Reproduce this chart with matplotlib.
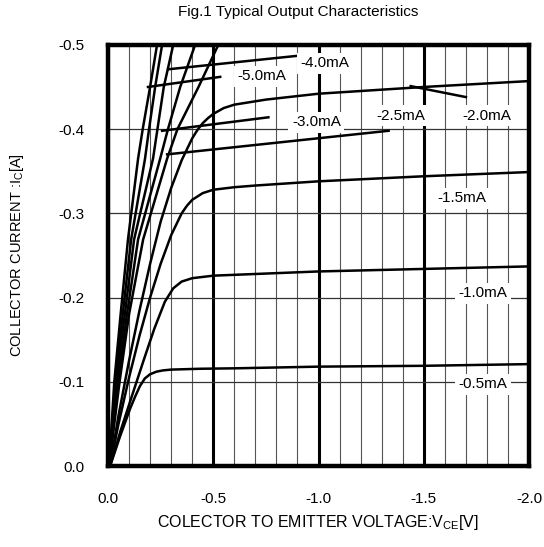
import matplotlib
matplotlib.use('Agg')
import matplotlib.pyplot as plt
import numpy as np

plt.rcParams.update({"font.family": ["Liberation Sans", "DejaVu Sans"], "font.size": 11,
                     "axes.unicode_minus": False, "mathtext.fontset": "custom",
                     "mathtext.rm": "Liberation Sans", "mathtext.it": "Liberation Sans"})

# base current curves, VCE [V] / IC [A]
vce_05 = [-0.01, -0.057, -0.105, -0.13, -0.152, -0.175, -0.20, -0.23, -0.26, -0.30, -0.44, -0.60, -1.00, -1.50, -2.00]
ic_05 = [0, -0.035, -0.068, -0.083, -0.095, -0.104, -0.109, -0.112, -0.1135, -0.1145, -0.1155, -0.116, -0.118, -0.119, -0.121]

vce_10 = [-0.01, -0.06, -0.12, -0.17, -0.22, -0.27, -0.31, -0.35, -0.40, -0.50, -0.60, -1.00, -1.50, -2.00]
ic_10 = [0, -0.042, -0.088, -0.126, -0.163, -0.195, -0.211, -0.219, -0.223, -0.226, -0.227, -0.231, -0.234, -0.237]

vce_15 = [-0.01, -0.05, -0.10, -0.15, -0.20, -0.25, -0.30, -0.35, -0.375, -0.40, -0.45, -0.50, -0.60, -0.70, -1.00, -1.50, -2.00]
ic_15 = [0, -0.05, -0.105, -0.155, -0.20, -0.24, -0.274, -0.300, -0.309, -0.316, -0.324, -0.328, -0.331, -0.333, -0.338, -0.344, -0.349]

vce_20 = [-0.01, -0.05, -0.10, -0.15, -0.20, -0.25, -0.30, -0.35, -0.40, -0.425, -0.45, -0.475, -0.50, -0.55, -0.60, -0.75, -1.00, -1.50, -2.00]
ic_20 = [0, -0.06, -0.125, -0.185, -0.24, -0.29, -0.33, -0.363, -0.389, -0.399, -0.407, -0.413, -0.418, -0.425, -0.429, -0.435, -0.442, -0.45, -0.457]

ic_high = [0, -0.10, -0.18, -0.269, -0.365, -0.40, -0.45, -0.50]
vce_25 = [-0.005, -0.055, -0.10, -0.167, -0.281, -0.33, -0.43, -0.524]
vce_30 = [-0.005, -0.048, -0.09, -0.143, -0.248, -0.285, -0.343, -0.414]
vce_40 = [-0.005, -0.04, -0.08, -0.124, -0.214, -0.235, -0.265, -0.31]
vce_45 = [-0.005, -0.035, -0.07, -0.11, -0.176, -0.195, -0.224, -0.257]
vce_50 = [-0.005, -0.03, -0.06, -0.095, -0.143, -0.165, -0.20, -0.233]

curves = [(vce_05, ic_05), (vce_10, ic_10), (vce_15, ic_15), (vce_20, ic_20),
          (vce_25, ic_high), (vce_30, ic_high), (vce_40, ic_high), (vce_45, ic_high), (vce_50, ic_high)]

# curve labels: text, label position, leader line (start, end) or None
labels = ['-5.0mA', '-4.0mA', '-3.0mA', '-2.5mA', '-2.0mA', '-1.5mA', '-1.0mA', '-0.5mA']
label_x = [-0.73, -1.03, -0.99, -1.39, -1.80, -1.68, -1.78, -1.78]
label_y = [-0.463, -0.478, -0.408, -0.416, -0.416, -0.318, -0.205, -0.097]
leader_x = [(-0.19, -0.533), (-0.286, -0.90), (-0.257, -0.762), (-0.281, -1.333), (-1.438, -1.70), None, None, None]
leader_y = [(-0.45, -0.462), (-0.471, -0.487), (-0.398, -0.414), (-0.37, -0.398), (-0.451, -0.438), None, None, None]

xticks = [0.0, -0.5, -1.0, -1.5, -2.0]
yticks = [0.0, -0.1, -0.2, -0.3, -0.4, -0.5]

fig = plt.figure(figsize=(5.44, 5.47), dpi=100)
ax = fig.add_axes([0.1985, 0.148, 0.774, 0.770])

for v, i in curves:
    ax.plot(v, i, color='black', lw=1.8, solid_joinstyle='round', zorder=3)

for k in range(len(labels)):
    if leader_x[k] is not None:
        ax.plot(leader_x[k], leader_y[k], color='black', lw=1.8, zorder=3)
    ax.text(label_x[k], label_y[k], labels[k], ha='center', va='center', fontsize=11, zorder=4,
            bbox=dict(facecolor='white', edgecolor='none', pad=2.5))

ax.set_xlim(0, -2.0)
ax.set_ylim(0, -0.5)
ax.set_xticks(xticks, ['%.1f' % t for t in xticks])
ax.set_yticks(yticks, ['%.1f' % t for t in yticks])
ax.set_xticks(np.arange(-0.1, -2.0, -0.1), minor=True)
ax.tick_params(which='both', length=0)
ax.tick_params(axis='x', pad=19)
ax.tick_params(axis='y', pad=17)

ax.grid(which='major', axis='x', color='black', lw=2.2)
ax.grid(which='minor', axis='x', color='#555555', lw=0.8)
ax.grid(which='major', axis='y', color='#333333', lw=0.9)
ax.set_axisbelow(True)
for s in ax.spines.values():
    s.set_linewidth(3.2)
    s.set_zorder(5)

fig.text(0.548, 0.978, 'Fig.1 Typical Output Characteristics', ha='center', va='center', fontsize=11)
fig.text(0.031, 0.534, r'COLLECTOR CURRENT :I$_\mathregular{C}$[A]', rotation=90, ha='center', va='center', fontsize=10.5)
fig.text(0.585, 0.044, r'COLECTOR TO EMITTER VOLTAGE:V$_\mathregular{CE}$[V]', ha='center', va='center', fontsize=11.5)

fig.savefig('out.png', dpi=100)
